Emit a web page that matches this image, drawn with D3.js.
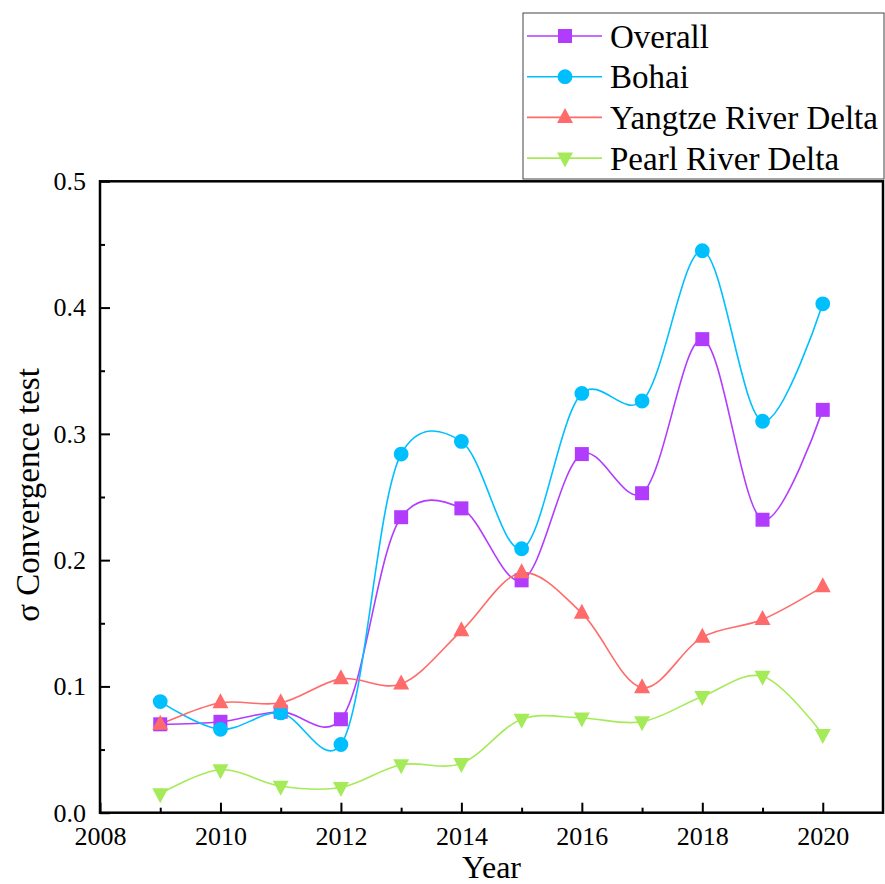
<!DOCTYPE html>
<html>
<head>
<meta charset="utf-8">
<script src="https://cdn.jsdelivr.net/npm/d3@7"></script>
<style>
	body { margin: 0; background: #fff; }
	svg text { font-family: 'Liberation Serif', 'Times New Roman', serif; fill: #000; }
</style>
</head>
<body>
<div id="draw"></div>
<script>
// data
const years = [2009, 2010, 2011, 2012, 2013, 2014, 2015, 2016, 2017, 2018, 2019, 2020];
const overall = [0.070, 0.072, 0.080, 0.074, 0.234, 0.241, 0.184, 0.284, 0.253, 0.375, 0.232, 0.319];
const bohai = [0.088, 0.066, 0.079, 0.054, 0.284, 0.294, 0.209, 0.332, 0.326, 0.445, 0.310, 0.403];
const yangtze = [0.070, 0.087, 0.087, 0.106, 0.102, 0.144, 0.190, 0.158, 0.099, 0.139, 0.153, 0.179];
const pearl = [0.015, 0.034, 0.021, 0.020, 0.038, 0.039, 0.074, 0.075, 0.072, 0.092, 0.108, 0.062];
const seriesNames = ['Overall', 'Bohai', 'Yangtze River Delta', 'Pearl River Delta'];
const xTicks = [2008, 2010, 2012, 2014, 2016, 2018, 2020];
const yTicks = [0.0, 0.1, 0.2, 0.3, 0.4, 0.5];

const series = [
	{ name: seriesNames[0], values: overall, color: '#B23CFE', shape: 'square' },
	{ name: seriesNames[1], values: bohai, color: '#00BFFF', shape: 'circle' },
	{ name: seriesNames[2], values: yangtze, color: '#FF6B6B', shape: 'up' },
	{ name: seriesNames[3], values: pearl, color: '#A5EB59', shape: 'down' },
];

var W = 885, H = 884;
var plotL = 100, plotR = 883, plotT = 181.3, plotB = 812.7;
var serif = "'Liberation Serif', 'Times New Roman', serif";

var svg = d3.select('#draw').append('svg').attr('width', W).attr('height', H);

var x = d3.scaleLinear().domain([2008, 2021]).range([plotL, plotR]);
var y = d3.scaleLinear().domain([0, 0.5]).range([plotB, plotT]);

// marker path relative to its centre
function marker(shape) {
	if (shape === 'square') return 'M-7,-7H7V7H-7Z';
	if (shape === 'circle') return 'M7.4,0A7.4,7.4 0 1,1 -7.4,0A7.4,7.4 0 1,1 7.4,0Z';
	if (shape === 'up') return 'M0,-9.5L8,5.5L-8,5.5Z';
	return 'M0,9.5L8,-5.5L-8,-5.5Z';
}

// x axis ticks (inward), minor at odd years
var xAxis = d3.axisBottom(x).tickValues(xTicks).tickFormat(d3.format('d')).tickSize(-10).tickPadding(14);
var gx = svg.append('g').attr('transform', 'translate(0,' + plotB + ')').call(xAxis);
gx.attr('font-family', serif).attr('font-size', 26);
gx.selectAll('.tick text').style('font-family', serif);
svg.append('g').attr('transform', 'translate(0,' + plotB + ')')
	.call(d3.axisBottom(x).tickValues(d3.range(2009, 2021, 2)).tickFormat('').tickSize(-5));

var yAxis = d3.axisLeft(y).tickValues(yTicks).tickFormat(d3.format('.1f')).tickSize(-10).tickPadding(14);
var gy = svg.append('g').attr('transform', 'translate(' + plotL + ',0)').call(yAxis);
gy.attr('font-family', serif).attr('font-size', 26);
gy.selectAll('.tick text').style('font-family', serif);
svg.append('g').attr('transform', 'translate(' + plotL + ',0)')
	.call(d3.axisLeft(y).tickValues([0.05, 0.15, 0.25, 0.35, 0.45]).tickFormat('').tickSize(-5));

svg.selectAll('.domain').remove();
svg.selectAll('.tick line').attr('stroke', '#000').attr('stroke-width', 2);

// frame
svg.append('rect')
	.attr('x', plotL).attr('y', plotT)
	.attr('width', plotR - plotL).attr('height', plotB - plotT)
	.attr('fill', 'none').attr('stroke', '#000').attr('stroke-width', 2.5);

// lines
var line = d3.line()
	.x(function (d, i) { return x(years[i]); })
	.y(function (d) { return y(d); })
	.curve(d3.curveCatmullRom.alpha(0.2));

series.forEach(function (s) {
	svg.append('path')
		.attr('d', line(s.values))
		.attr('fill', 'none')
		.attr('stroke', s.color)
		.attr('stroke-width', 1.6);
});

series.forEach(function (s) {
	svg.selectAll('.m-' + s.shape)
		.data(s.values)
		.enter()
		.append('path')
		.attr('class', 'm-' + s.shape)
		.attr('d', marker(s.shape))
		.attr('transform', function (d, i) { return 'translate(' + x(years[i]) + ',' + y(d) + ')'; })
		.attr('fill', s.color);
});

// axis titles
svg.append('text')
	.attr('x', (plotL + plotR) / 2)
	.attr('y', 878)
	.attr('text-anchor', 'middle')
	.style('font-size', '32px')
	.text('Year');

svg.append('text')
	.attr('transform', 'translate(39,' + 495 + ') rotate(-90)')
	.attr('text-anchor', 'middle')
	.style('font-size', '33px')
	.text('σ Convergence test');

// legend
var lg = svg.append('g');
lg.append('rect')
	.attr('x', 523).attr('y', 13)
	.attr('width', 361).attr('height', 166)
	.attr('fill', '#fff').attr('stroke', '#444').attr('stroke-width', 1);

series.forEach(function (s, i) {
	var cy = 36 + i * 40.7;
	lg.append('line')
		.attr('x1', 527).attr('x2', 602)
		.attr('y1', cy).attr('y2', cy)
		.attr('stroke', s.color).attr('stroke-width', 1.6);
	lg.append('path')
		.attr('d', marker(s.shape))
		.attr('transform', 'translate(565,' + cy + ')')
		.attr('fill', s.color);
	lg.append('text')
		.attr('x', 610).attr('y', cy)
		.attr('dy', '0.35em')
		.style('font-size', '33px')
		.text(s.name);
});
</script>
</body>
</html>
